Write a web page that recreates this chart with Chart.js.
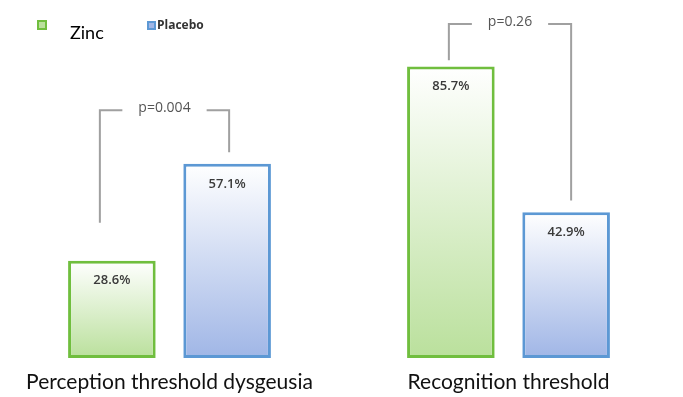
<!DOCTYPE html>
<html lang="en">
<head>
    <meta charset="UTF-8">
    <title>Zinc vs Placebo</title>
    <script src="https://cdn.jsdelivr.net/npm/chart.js"></script>
    <style>
        body {
            margin: 0;
            background: #ffffff;
        }
        .chart-box {
            width: 683px;
            height: 397px;
            position: relative;
        }
    </style>
</head>
<body>
    <div class="chart-box">
        <canvas id="myChart"></canvas>
    </div>
    <script>
        // dados
        const categorias = ['Perception threshold dysgeusia', 'Recognition threshold'];
        const zinco = [28.6, 85.7];
        const placebo = [57.1, 42.9];
        const pValores = ['p=0.004', 'p=0.26'];
        // altura dos colchetes (em % do eixo)
        const colcheteTopo = [72.9, 98.2];
        const colcheteEsq = [39.8, 87.6];
        const colcheteDir = [60.5, 46.3];

        const cores = {
            zinco: { borda: 'rgb(112, 190, 62)', fundo: 'rgb(186, 224, 156)' },
            placebo: { borda: 'rgb(92, 152, 212)', fundo: 'rgb(160, 182, 230)' }
        };

        function gradiente(ctx, cor) {
            const chart = ctx.chart;
            const area = chart.chartArea;
            if (!area) return cor;
            const y = chart.scales.y;
            const valor = ctx.dataset.data[ctx.dataIndex];
            const topo = y.getPixelForValue(valor);
            const g = chart.ctx.createLinearGradient(0, topo, 0, area.bottom);
            g.addColorStop(0, '#ffffff');
            g.addColorStop(1, cor);
            return g;
        }

        // rótulos dentro das barras + colchetes com p
        const extras = {
            id: 'extras',
            afterDatasetsDraw(chart) {
                const ctx = chart.ctx;
                const y = chart.scales.y;
                ctx.save();

                ctx.font = '600 13px "Open Sans", sans-serif';
                ctx.fillStyle = '#3a3a3a';
                ctx.textAlign = 'center';
                ctx.textBaseline = 'middle';
                chart.data.datasets.forEach((ds, i) => {
                    chart.getDatasetMeta(i).data.forEach((bar, j) => {
                        ctx.fillText(ds.data[j].toFixed(1) + '%', bar.x, bar.y + 20);
                    });
                });

                const m0 = chart.getDatasetMeta(0).data;
                const m1 = chart.getDatasetMeta(1).data;
                ctx.strokeStyle = '#a0a0a0';
                ctx.lineWidth = 2;
                ctx.font = '14px "Open Sans", sans-serif';
                ctx.fillStyle = '#555555';
                for (let k = 0; k < categorias.length; k++) {
                    const xe = m0[k].x - (k === 0 ? 12 : 2);
                    const xd = m1[k].x + (k === 0 ? 2 : 5);
                    const yt = y.getPixelForValue(colcheteTopo[k]);
                    const ye = y.getPixelForValue(colcheteEsq[k]);
                    const yd = y.getPixelForValue(colcheteDir[k]);
                    const xm = (xe + xd) / 2;
                    const meio = ctx.measureText(pValores[k]).width / 2 + 16;
                    ctx.beginPath();
                    ctx.moveTo(xe, ye);
                    ctx.lineTo(xe, yt);
                    ctx.lineTo(xm - meio, yt);
                    ctx.moveTo(xm + meio, yt);
                    ctx.lineTo(xd, yt);
                    ctx.lineTo(xd, yd);
                    ctx.stroke();
                    ctx.fillText(pValores[k], xm, yt - 2);
                }

                // legenda
                ctx.lineWidth = 2;
                ctx.strokeStyle = cores.zinco.borda;
                ctx.fillStyle = cores.zinco.fundo;
                ctx.fillRect(38, 21, 8, 8);
                ctx.strokeRect(38, 21, 8, 8);
                ctx.fillStyle = '#000000';
                ctx.textAlign = 'left';
                ctx.font = '18px Lato, sans-serif';
                ctx.fillText(chart.data.datasets[0].label, 70, 33);

                ctx.strokeStyle = cores.placebo.borda;
                ctx.fillStyle = cores.placebo.fundo;
                ctx.fillRect(148, 22, 7, 7);
                ctx.strokeRect(148, 22, 7, 7);
                ctx.fillStyle = '#333333';
                ctx.font = 'bold 12px "Open Sans", sans-serif';
                ctx.fillText(chart.data.datasets[1].label, 157, 26);
                ctx.restore();
            }
        };

        const config = {
            type: 'bar',
            data: {
                labels: categorias,
                datasets: [{
                    label: 'Zinc',
                    data: zinco,
                    borderColor: cores.zinco.borda,
                    backgroundColor: (ctx) => gradiente(ctx, cores.zinco.fundo),
                    borderWidth: 3,
                    borderSkipped: false
                }, {
                    label: 'Placebo',
                    data: placebo,
                    borderColor: cores.placebo.borda,
                    backgroundColor: (ctx) => gradiente(ctx, cores.placebo.fundo),
                    borderWidth: 3,
                    borderSkipped: false
                }]
            },
            options: {
                responsive: true,
                maintainAspectRatio: false,
                animation: false,
                categoryPercentage: 0.68,
                barPercentage: 0.76,
                layout: {
                    padding: { top: 18, left: 0, right: 5, bottom: 0 }
                },
                scales: {
                    x: {
                        grid: { display: false },
                        border: { display: false },
                        afterFit(scale) {
                            scale.height = 39;
                        },
                        ticks: {
                            color: '#111111',
                            padding: 4,
                            maxRotation: 0,
                            font: { family: 'Lato', size: 21 }
                        }
                    },
                    y: {
                        display: false,
                        min: 0,
                        max: 100
                    }
                },
                plugins: {
                    legend: { display: false },
                    tooltip: { enabled: false }
                }
            },
            plugins: [extras]
        };

        new Chart(document.getElementById('myChart'), config);
    </script>
</body>
</html>
